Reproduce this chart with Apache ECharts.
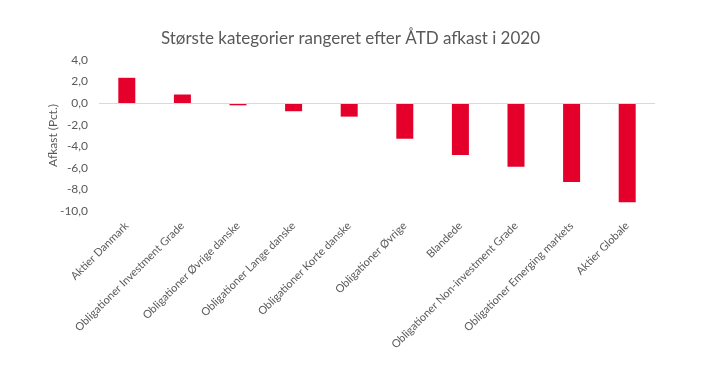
<!DOCTYPE html>
<html><head><meta charset="utf-8">
<script src="https://cdn.jsdelivr.net/npm/echarts@6/dist/echarts.min.js"></script>
<style>html,body{margin:0;padding:0;background:#fff}#c{width:701px;height:379px}</style>
</head><body><div id="c"></div>
<script>
const title = 'Største kategorier rangeret efter ÅTD afkast i 2020';
const yAxisName = 'Afkast (Pct.)';
const categories = ['Aktier Danmark','Obligationer Investment Grade','Obligationer Øvrige danske','Obligationer Lange danske','Obligationer Korte danske','Obligationer Øvrige','Blandede','Obligationer Non-investment Grade','Obligationer Emerging markets','Aktier Globale'];
const values = [2.35, 0.8, -0.2, -0.75, -1.25, -3.3, -4.8, -5.9, -7.3, -9.2];
const yMin = -10, yMax = 4, yStep = 2;

const chart = echarts.init(document.getElementById('c'), null, {renderer:'canvas'});
const txt = '#595959', font = 'Lato';
chart.setOption({
  animation:false,
  backgroundColor:'#fff',
  title:{text:title,left:'center',top:25,textStyle:{fontFamily:font,fontSize:17,fontWeight:'normal',color:txt}},
  grid:{left:99,right:46,top:60,bottom:168,containLabel:false},
  xAxis:{type:'category',data:categories,
    axisLine:{show:false,onZero:false},axisTick:{show:false},
    axisLabel:{rotate:45,interval:0,margin:13,fontFamily:font,fontSize:11,color:txt}},
  yAxis:{type:'value',min:yMin,max:yMax,interval:yStep,
    name:yAxisName,nameLocation:'middle',nameGap:40,nameRotate:90,nameMoveOverlap:false,
    nameTextStyle:{fontFamily:font,fontSize:12,color:txt},
    axisLine:{show:false},axisTick:{show:false},splitLine:{show:false},
    axisLabel:{margin:11,fontFamily:font,fontSize:12,color:txt,formatter:v=>v.toFixed(1).replace('.',',')}},
  series:[{type:'bar',data:values,barWidth:17,itemStyle:{color:'#e4002b'},
    markLine:{silent:true,symbol:'none',label:{show:false},lineStyle:{color:'#d9d9d9',type:'solid',width:1},data:[{yAxis:0}]}}]
});
</script></body></html>
